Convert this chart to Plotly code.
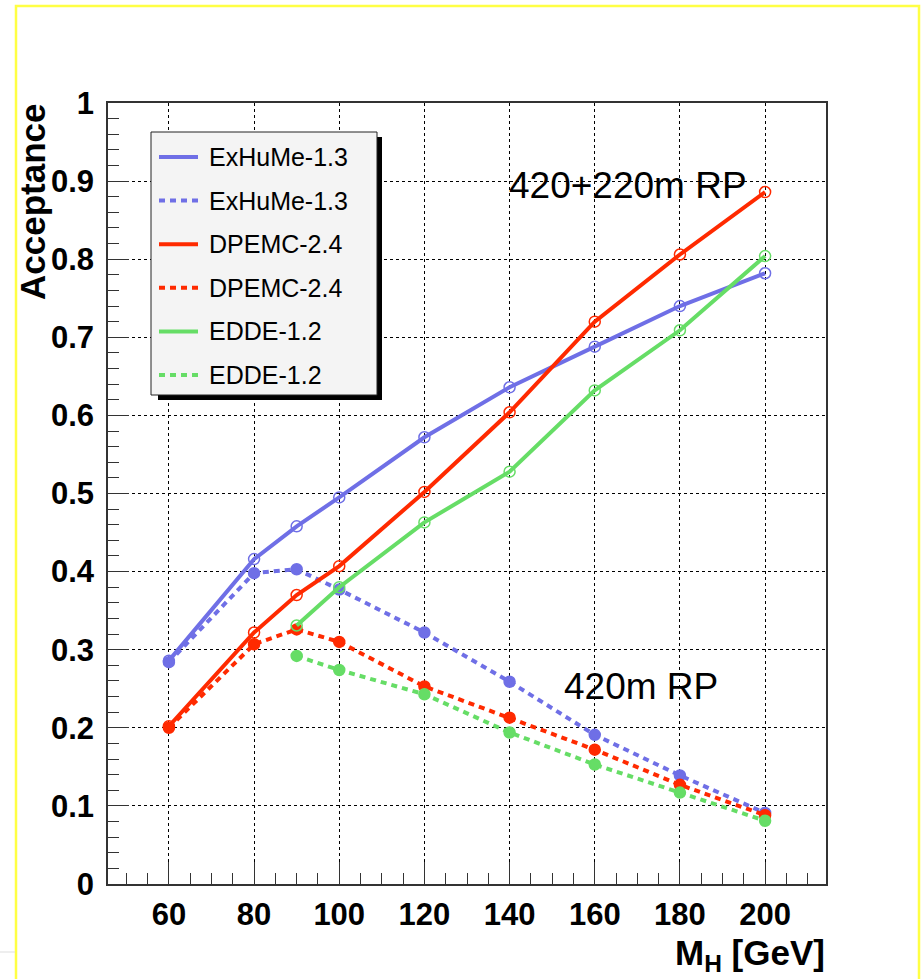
import plotly.graph_objects as go

# ---------------- data ----------------
masses = [60, 80, 90, 100, 120, 140, 160, 180, 200]
masses_edde = [90, 100, 120, 140, 160, 180, 200]

exhume_420_220 = [0.286, 0.416, 0.458, 0.495, 0.572, 0.636, 0.688, 0.740, 0.782]
exhume_420 = [0.284, 0.398, 0.403, 0.377, 0.322, 0.259, 0.191, 0.139, 0.091]
dpemc_420_220 = [0.202, 0.322, 0.370, 0.407, 0.502, 0.604, 0.720, 0.806, 0.886]
dpemc_420 = [0.200, 0.307, 0.326, 0.310, 0.253, 0.213, 0.172, 0.127, 0.088]
edde_420_220 = [0.331, 0.380, 0.463, 0.528, 0.632, 0.709, 0.804]
edde_420 = [0.292, 0.274, 0.243, 0.194, 0.153, 0.117, 0.081]

legend_labels = ["ExHuMe-1.3", "ExHuMe-1.3", "DPEMC-2.4", "DPEMC-2.4", "EDDE-1.2", "EDDE-1.2"]
x_ticks = [60, 80, 100, 120, 140, 160, 180, 200]
y_ticks = [0, 0.1, 0.2, 0.3, 0.4, 0.5, 0.6, 0.7, 0.8, 0.9, 1.0]
y_ticktext = ["0", "0.1", "0.2", "0.3", "0.4", "0.5", "0.6", "0.7", "0.8", "0.9", "1"]

# ---------------- style ----------------
W, H = 922, 979
L, R, T, B = 108, 826, 103, 884
BLUE = "#6f6fe6"
RED = "#ff2a00"
GREEN = "#66dd66"
DOT = "6px,5px"
FONT = "Liberation Sans, Arial, Helvetica, sans-serif"

def px(x):
    return (x - L) / (R - L)

def py(y):
    return (B - y) / (B - T)

series = [
    (masses, exhume_420_220, BLUE, "solid", "circle-open"),
    (masses, exhume_420, BLUE, DOT, "circle"),
    (masses, dpemc_420_220, RED, "solid", "circle-open"),
    (masses, dpemc_420, RED, DOT, "circle"),
    (masses_edde, edde_420_220, GREEN, "solid", "circle-open"),
    (masses_edde, edde_420, GREEN, DOT, "circle"),
]

fig = go.Figure()
for (xs, ys, col, dash, sym), name in zip(series, legend_labels):
    fig.add_trace(go.Scatter(
        x=xs, y=ys, mode="lines+markers", name=name, showlegend=False,
        line=dict(color=col, width=4, dash=dash),
        marker=dict(symbol=sym, size=11, color=col, line=dict(color=col, width=1.5)),
    ))

shapes = []
annotations = []

# yellow page border
shapes.append(dict(type="rect", xref="paper", yref="paper",
                   x0=px(16), x1=px(919), y0=py(6), y1=py(1000),
                   line=dict(color="#ffff44", width=2.5), fillcolor="rgba(0,0,0,0)", layer="below"))
shapes.append(dict(type="line", xref="paper", yref="paper",
                   x0=px(0), x1=px(15), y0=py(952), y1=py(952),
                   line=dict(color="#dddddd", width=1)))

# legend box with shadow
shapes.append(dict(type="rect", xref="paper", yref="paper",
                   x0=px(158), x1=px(382), y0=py(400), y1=py(137),
                   line=dict(width=0), fillcolor="black", layer="above"))
shapes.append(dict(type="rect", xref="paper", yref="paper",
                   x0=px(151), x1=px(377), y0=py(395), y1=py(132),
                   line=dict(color="#222222", width=1), fillcolor="#f4f4f4", layer="above"))
step = (375 - 157) / 5
for i, ((xs, ys, col, dash, sym), name) in enumerate(zip(series, legend_labels)):
    yc = 157 + i * step
    shapes.append(dict(type="line", xref="paper", yref="paper",
                       x0=px(159), x1=px(198), y0=py(yc), y1=py(yc),
                       line=dict(color=col, width=4, dash=dash), layer="above"))
    annotations.append(dict(text=name, xref="paper", yref="paper",
                            x=px(207), y=py(yc), xanchor="left", yanchor="middle",
                            showarrow=False, font=dict(family=FONT, size=25, color="black")))

# in-plot labels
annotations.append(dict(text="420+220m RP", xref="paper", yref="paper", x=px(628), y=py(185),
                        xanchor="center", yanchor="middle", showarrow=False,
                        font=dict(family=FONT, size=37, color="black")))
annotations.append(dict(text="420m RP", xref="paper", yref="paper", x=px(641), y=py(686),
                        xanchor="center", yanchor="middle", showarrow=False,
                        font=dict(family=FONT, size=37, color="black")))

# axis titles
annotations.append(dict(text="Acceptance", xref="paper", yref="paper", x=px(32), y=py(102),
                        xanchor="center", yanchor="top", textangle=-90, showarrow=False,
                        font=dict(family=FONT, size=35, color="black", weight="bold")))
annotations.append(dict(text="M<sub>H</sub> [GeV]", xref="paper", yref="paper", x=px(827), y=py(955),
                        xanchor="right", yanchor="middle", showarrow=False,
                        font=dict(family=FONT, size=35, color="black", weight="bold")))

fig.update_layout(
    width=W, height=H,
    margin=dict(l=L, r=W - R, t=T, b=H - B, pad=0),
    paper_bgcolor="white", plot_bgcolor="white",
    showlegend=False,
    shapes=shapes, annotations=annotations,
)
fig.update_xaxes(
    range=[45.7, 214.3], tickvals=x_ticks, ticks="inside", ticklen=22, tickwidth=1.2,
    tickcolor="#333333", showline=True, linecolor="#333333", linewidth=1.5, mirror=True,
    showgrid=True, gridcolor="black", griddash="dot", gridwidth=1, zeroline=False,
    tickfont=dict(family=FONT, size=31, color="black", weight="bold"), ticklabelstandoff=2,
    minor=dict(ticks="inside", ticklen=11, dtick=5, tick0=0, tickcolor="#333333", tickwidth=1.2, showgrid=False),
)
fig.update_yaxes(
    range=[0, 1], tickvals=y_ticks, ticktext=y_ticktext, ticks="inside", ticklen=21, tickwidth=1.2,
    tickcolor="#333333", showline=True, linecolor="#333333", linewidth=1.5, mirror=True,
    showgrid=True, gridcolor="black", griddash="dot", gridwidth=1, zeroline=False,
    tickfont=dict(family=FONT, size=31, color="black", weight="bold"), ticklabelstandoff=6,
    minor=dict(ticks="inside", ticklen=11, dtick=0.02, tick0=0, tickcolor="#333333", tickwidth=1.2, showgrid=False),
)

fig.write_html("out.html")
